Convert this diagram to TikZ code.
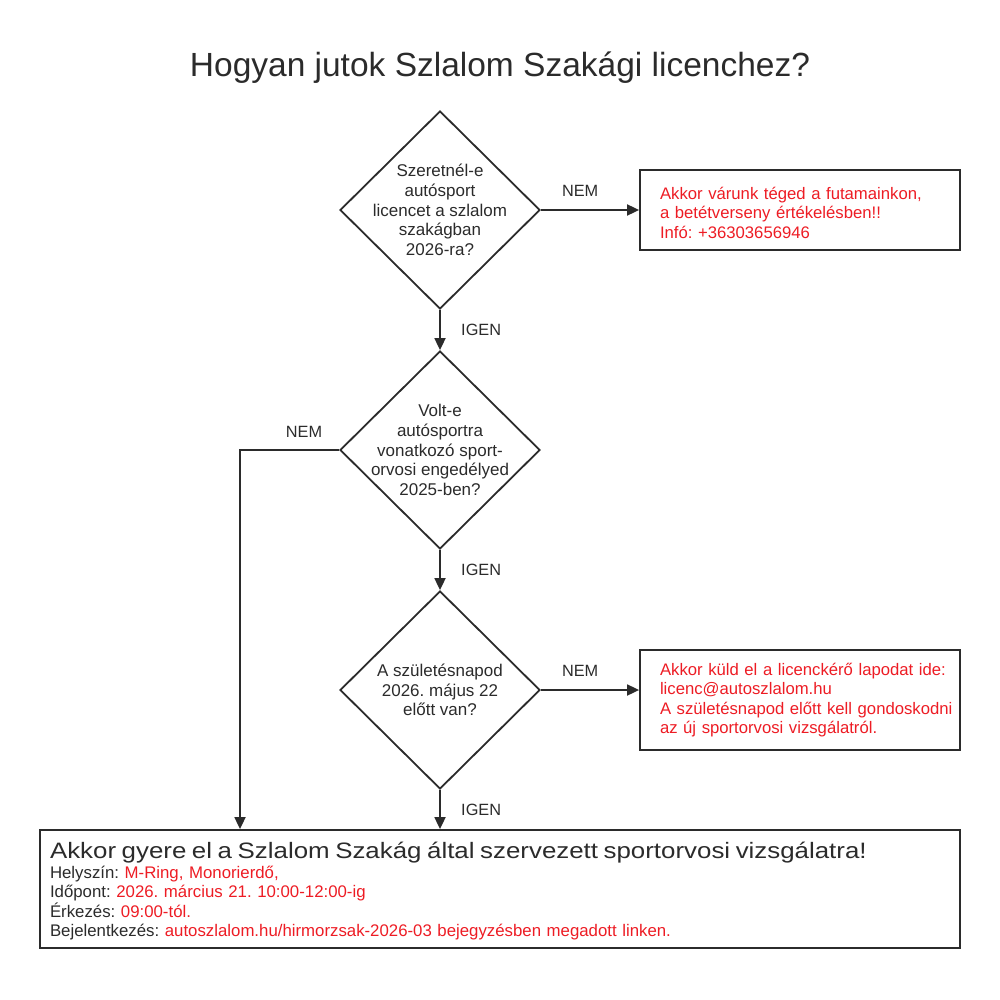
\documentclass[tikz,border=0pt]{standalone}
\usepackage{fontspec}
\setmainfont{Liberation Sans}
\newfontfamily\widefont[FakeStretch=1.16]{Liberation Sans}
\usetikzlibrary{shapes.geometric,arrows.meta,positioning}
\definecolor{ink}{HTML}{2B2B2B}
\definecolor{alert}{HTML}{ED1C24}
\tikzset{
  line/.style={draw=ink, line width=1.8pt},
  arrow/.style={line, -{Triangle[length=12pt,width=11pt]}},
  decision/.style={diamond, line, minimum width=200pt, minimum height=198pt, inner sep=0pt, shape aspect=1},
  qtext/.style={align=center, text=ink, font=\fontsize{17}{19.6}\selectfont},
  infobox/.style={rectangle, line, minimum width=320pt, text width=280pt, inner xsep=20pt, align=left, text=alert, font=\fontsize{16.7}{19.6}\selectfont},
  answer/.style={text=ink, font=\fontsize{16.3}{18}\selectfont},
}
\begin{document}
\frenchspacing
\begin{tikzpicture}[x=1pt, y=-1pt]
            \useasboundingbox (0,0) rectangle (1000,1000);
            \node[text=ink, font=\fontsize{33.5}{36}\selectfont] (title) at (500,68) {Hogyan jutok Szlalom Szakági licenchez?};
            % kérdések
            \node[decision] (q1) at (440,210) {};
            \node[qtext] at (q1) {Szeretnél-e\\autósport\\licencet a szlalom\\szakágban\\2026-ra?};
            \node[decision] (q2) at (440,450) {};
            \node[qtext] at (q2) {Volt-e\\autósportra\\vonatkozó sport-\\orvosi engedélyed\\2025-ben?};
            \node[decision] (q3) at (440,690) {};
            \node[qtext] at (q3) {A születésnapod\\2026. május 22\\előtt van?};
            % válaszok
            \node[infobox, minimum height=80pt] (futam) at (800,210) {\rule{0pt}{18pt}Akkor várunk téged a futamainkon,\\a betétverseny értékelésben!!\\Infó: +36303656946};
            \node[infobox, minimum height=100pt] (kuld) at (800,700) {\mbox{Akkor küld el a licenckérő lapodat ide:}\\licenc@autoszlalom.hu\\\mbox{A születésnapod előtt kell gondoskodni}\\az új sportorvosi vizsgálatról.};
            \node[rectangle, line, minimum width=920pt, minimum height=118pt, text width=900pt, inner xsep=10pt, align=left, text=ink, font=\fontsize{16.8}{19.5}\selectfont] (vizsga) at (500,889)
              {\rule{0pt}{21.4pt}{\widefont\fontsize{22.3}{24}\selectfont Akkor gyere el a Szlalom Szakág által szervezett sportorvosi vizsgálatra!}\\
               Helyszín: \textcolor{alert}{M-Ring, Monorierdő,}\\
               Időpont: \textcolor{alert}{2026. március 21. 10:00-12:00-ig}\\
               Érkezés: \textcolor{alert}{09:00-tól.}\\
               Bejelentkezés: \textcolor{alert}{autoszlalom.hu/hirmorzsak-2026-03 bejegyzésben megadott linken.}};
            % nyilak
            \draw[arrow] (q1.east) -- (futam.west) node[answer, pos=0.4, above=9pt] {NEM};
            \draw[arrow] (q1.south) -- (q2.north) node[answer, midway, right=17pt] {IGEN};
            \coordinate (sarok) at (240,450);
            \draw[arrow] (q2.west) -- (sarok) -- (sarok |- vizsga.north);
            \node[answer] (nem2) at (304,432) {NEM};
            \draw[arrow] (q2.south) -- (q3.north) node[answer, midway, right=17pt] {IGEN};
            \draw[arrow] (q3.east) -- (kuld.west |- q3.east) node[answer, pos=0.4, above=9pt] {NEM};
            \draw[arrow] (q3.south) -- (q3.south |- vizsga.north) node[answer, midway, right=17pt] {IGEN};
        \end{tikzpicture}
\end{document}
